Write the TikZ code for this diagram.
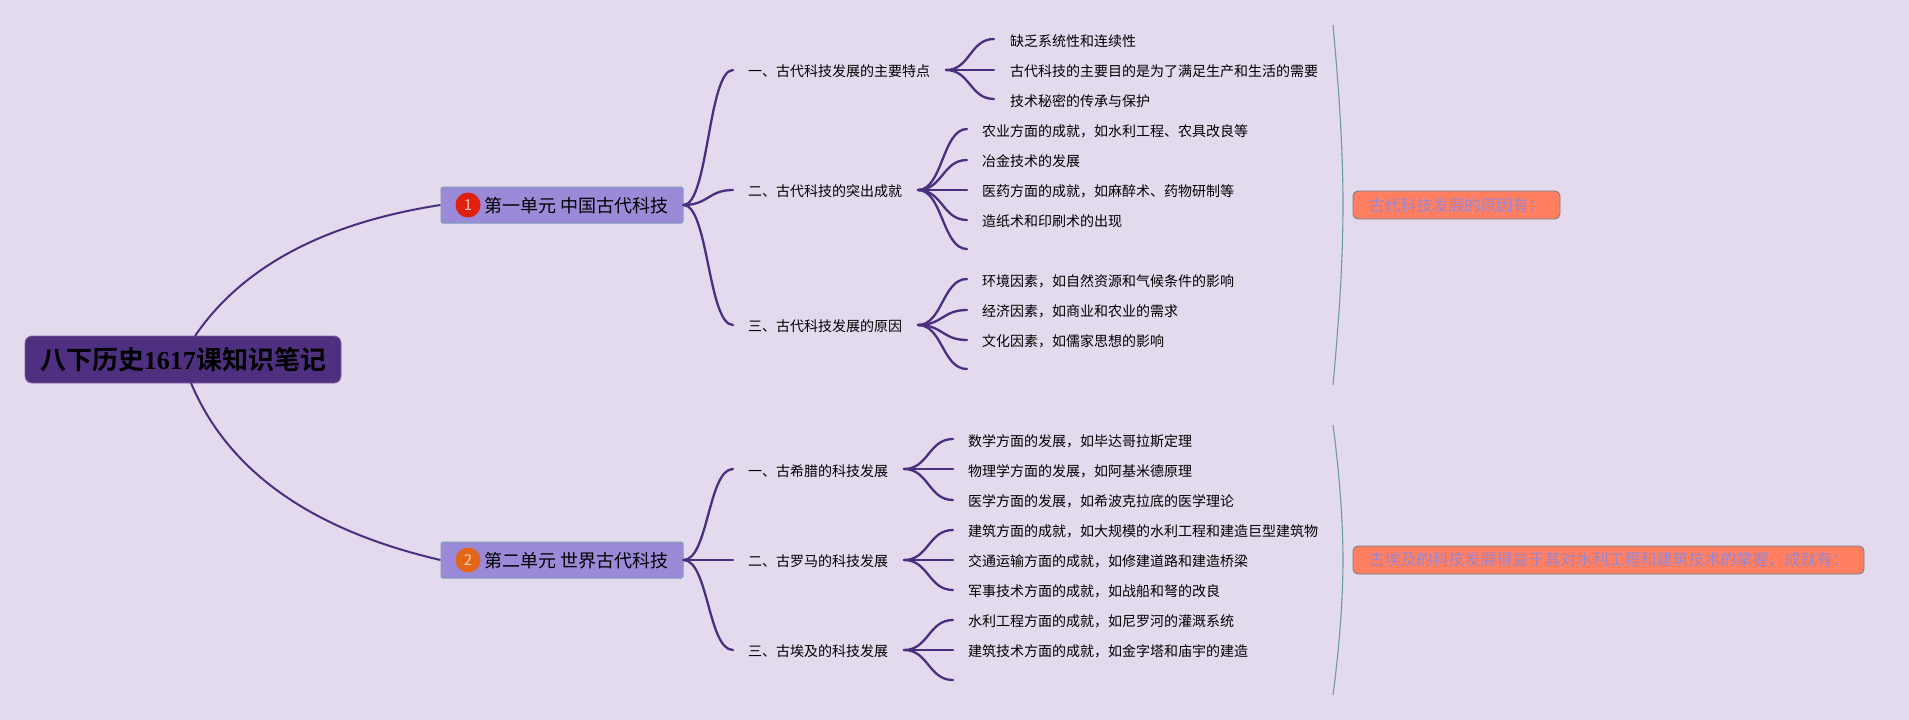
\documentclass[tikz,border=0pt]{standalone}
\usepackage{fontspec}
\setmainfont{Noto Sans CJK SC}
\newfontfamily\rootdigits{Liberation Serif}[BoldFont={Liberation Serif Bold}]
\newfontfamily\rootcjk{Noto Sans CJK SC Bold}
\usetikzlibrary{calc}
\definecolor{bgc}{HTML}{E3DAEE}
\definecolor{linec}{HTML}{4A2F80}
\definecolor{rootc}{HTML}{4F3080}
\definecolor{unitc}{HTML}{9A8AD8}
\definecolor{edgec}{HTML}{7C9DB8}
\definecolor{sumc}{HTML}{FF7F60}
\definecolor{sumt}{HTML}{9C86CE}
\definecolor{bracec}{HTML}{6F9AA0}
\definecolor{redb}{HTML}{E0200F}
\definecolor{orangeb}{HTML}{E4661A}
\tikzset{
  rootbox/.style={draw=rootc!75!white,line width=.8pt,fill=rootc,rounded corners=7pt,minimum width=316pt,minimum height=47pt,inner sep=0pt,font=\fontsize{26}{26}\selectfont,text=black},
  unitbox/.style={draw=edgec,line width=1pt,fill=unitc,rounded corners=1.5pt,minimum width=242pt,minimum height=36pt,inner sep=0pt},
  unittext/.style={anchor=west,inner sep=0pt,font=\fontsize{18}{20}\selectfont,text=black,text height=16pt,text depth=3pt},
  badge/.style={circle,inner sep=0pt,minimum size=25pt,font=\fontsize{15}{15}\selectfont},
  lvltwo/.style={anchor=west,inner sep=0pt,font=\fontsize{14}{14}\selectfont,text=black,text height=12pt,text depth=2pt},
  lvlthree/.style={lvltwo},
  sumbox/.style={draw=gray!90!teal,line width=.9pt,fill=sumc,rounded corners=5pt,minimum height=28pt,inner sep=0pt,font=\fontsize{16}{16}\selectfont,text=sumt},
  link/.style={draw=linec,line width=2.3pt,line cap=round},
  mainlink/.style={draw=linec,line width=2pt},
  bracket/.style={draw=bracec,line width=1.1pt}
}
\newcommand{\conn}[2]{\path[link] let \p1=(#1),\p2=(#2),\n1={(\x1+\x2)/2} in (\p1) .. controls (\n1,\y1) and (\n1,\y2) .. (\p2);}
\begin{document}
\begin{tikzpicture}[x=1pt,y=-1pt]
\useasboundingbox (0,0) rectangle (1909,720);
\fill[bgc] (0,0) rectangle (1909,720);

% root and units
\node[rootbox] (root) at (183,359.5) {\rootcjk 八下历史{\rootdigits\bfseries 1617}课知识笔记};
\node[unitbox] (u1) at (562,205) {};
\node[unitbox] (u2) at (562,560) {};
\node[badge,fill=redb,text=red!25!white] (b1) at (468,205) {1};
\node[badge,fill=orangeb,text=orange!35!white] (b2) at (468,560) {2};
\node[unittext] (u1t) at (484,206) {第一单元 中国古代科技};
\node[unittext] (u2t) at (484,561) {第二单元 世界古代科技};
\coordinate (r1) at (195,336);
\coordinate (r2) at (191,383);
\draw[mainlink] (r1) .. controls (242,267) and (324,223) .. (u1.west);
\draw[mainlink] (r2) .. controls (228,471) and (311,530) .. (u2.west);

% level two
\coordinate (a1) at (733,70);
\coordinate (a2) at (733,190);
\coordinate (a3) at (733,325);
\coordinate (b1e) at (733,469);
\coordinate (b2e) at (733,560);
\coordinate (b3e) at (733,650);
\node[lvltwo] (l1) at (748,71) {一、古代科技发展的主要特点};
\node[lvltwo] (l2) at (748,191) {二、古代科技的突出成就};
\node[lvltwo] (l3) at (748,326) {三、古代科技发展的原因};
\node[lvltwo] (l4) at (748,471) {一、古希腊的科技发展};
\node[lvltwo] (l5) at (748,561) {二、古罗马的科技发展};
\node[lvltwo] (l6) at (748,651) {三、古埃及的科技发展};
\foreach \e in {a1,a2,a3} {\conn{u1.east}{\e}}
\foreach \e in {b1e,b2e,b3e} {\conn{u2.east}{\e}}

% forks
\coordinate (f1) at (946,70);
\coordinate (f2) at (918,190);
\coordinate (f3) at (918,325);
\coordinate (f4) at (904,469);
\coordinate (f5) at (904,560);
\coordinate (f6) at (904,650);

\coordinate (e11) at (994,39);
\coordinate (e12) at (994,70);
\coordinate (e13) at (994,99);
\coordinate (e21) at (967,129);
\coordinate (e22) at (967,160);
\coordinate (e23) at (967,190);
\coordinate (e24) at (967,220);
\coordinate (e25) at (967,249);
\coordinate (e31) at (967,279);
\coordinate (e32) at (967,310);
\coordinate (e33) at (967,340);
\coordinate (e34) at (967,369);
\coordinate (e41) at (953,439);
\coordinate (e42) at (953,469);
\coordinate (e43) at (953,500);
\coordinate (e51) at (953,530);
\coordinate (e52) at (953,560);
\coordinate (e53) at (953,590);
\coordinate (e61) at (953,620);
\coordinate (e62) at (953,650);
\coordinate (e63) at (953,680);
\foreach \e in {e11,e12,e13} {\conn{f1}{\e}}
\foreach \e in {e21,e22,e23,e24,e25} {\conn{f2}{\e}}
\foreach \e in {e31,e32,e33,e34} {\conn{f3}{\e}}
\foreach \e in {e41,e42,e43} {\conn{f4}{\e}}
\foreach \e in {e51,e52,e53} {\conn{f5}{\e}}
\foreach \e in {e61,e62,e63} {\conn{f6}{\e}}

% leaves
\node[lvlthree] (t11) at (1010,41) {缺乏系统性和连续性};
\node[lvlthree] (t12) at (1010,71) {古代科技的主要目的是为了满足生产和生活的需要};
\node[lvlthree] (t13) at (1010,101) {技术秘密的传承与保护};
\node[lvlthree] (t21) at (982,131) {农业方面的成就，如水利工程、农具改良等};
\node[lvlthree] (t22) at (982,161) {冶金技术的发展};
\node[lvlthree] (t23) at (982,191) {医药方面的成就，如麻醉术、药物研制等};
\node[lvlthree] (t24) at (982,221) {造纸术和印刷术的出现};
\node[lvlthree] (t31) at (982,281) {环境因素，如自然资源和气候条件的影响};
\node[lvlthree] (t32) at (982,311) {经济因素，如商业和农业的需求};
\node[lvlthree] (t33) at (982,341) {文化因素，如儒家思想的影响};
\node[lvlthree] (t41) at (968,441) {数学方面的发展，如毕达哥拉斯定理};
\node[lvlthree] (t42) at (968,471) {物理学方面的发展，如阿基米德原理};
\node[lvlthree] (t43) at (968,501) {医学方面的发展，如希波克拉底的医学理论};
\node[lvlthree] (t51) at (968,531) {建筑方面的成就，如大规模的水利工程和建造巨型建筑物};
\node[lvlthree] (t52) at (968,561) {交通运输方面的成就，如修建道路和建造桥梁};
\node[lvlthree] (t53) at (968,591) {军事技术方面的成就，如战船和弩的改良};
\node[lvlthree] (t61) at (968,621) {水利工程方面的成就，如尼罗河的灌溉系统};
\node[lvlthree] (t62) at (968,651) {建筑技术方面的成就，如金字塔和庙宇的建造};

% summaries
\coordinate (s1a) at (1333,25);
\coordinate (s1m) at (1343,205);
\coordinate (s1b) at (1333,385);
\coordinate (s2a) at (1333,425);
\coordinate (s2m) at (1343,560);
\coordinate (s2b) at (1333,695);
\draw[bracket] (s1a) .. controls (1339,90) and (1343,150) .. (s1m) .. controls (1343,260) and (1339,320) .. (s1b);
\draw[bracket] (s2a) .. controls (1339,470) and (1343,520) .. (s2m) .. controls (1343,600) and (1339,650) .. (s2b);
\node[sumbox,minimum width=207pt] (s1) at (1456.5,205) {古代科技发展的原因有：};
\node[sumbox,minimum width=511pt] (s2) at (1608.5,560) {古埃及的科技发展得益于其对水利工程和建筑技术的掌握，成就有：};
\end{tikzpicture}
\end{document}
